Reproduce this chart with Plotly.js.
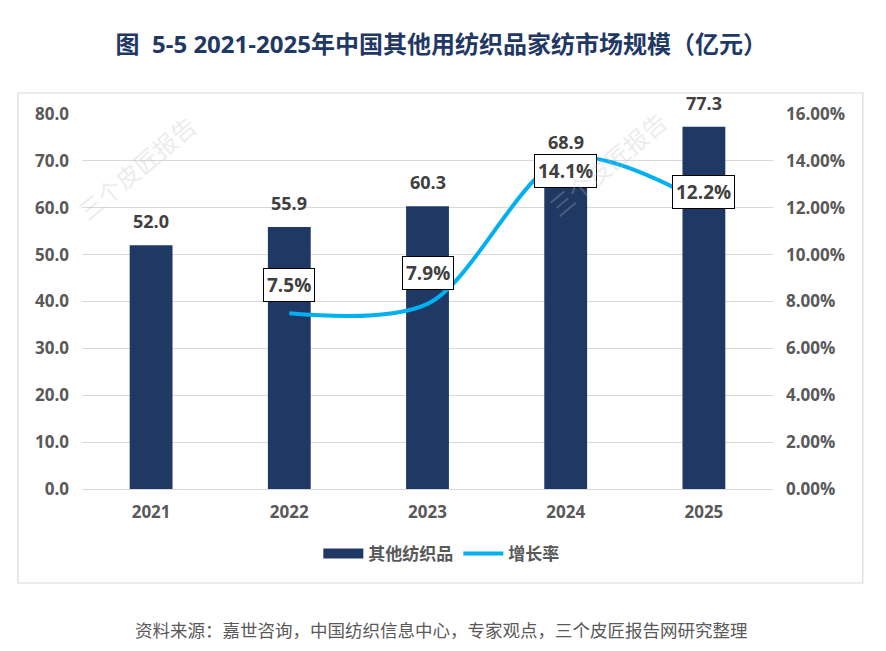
<!DOCTYPE html>
<html>
<head>
<meta charset="utf-8">
<script src="https://cdn.plot.ly/plotly-3.0.1.min.js"></script>
<style>html,body{margin:0;padding:0;background:#fff;}#chart{width:886px;height:651px;}</style>
</head>
<body>
<div id="chart"></div>
<script>
const years = ['2021', '2022', '2023', '2024', '2025'];
const marketSize = [52.0, 55.9, 60.3, 68.9, 77.3];
const growthRate = [null, 0.075, 0.079, 0.141, 0.122];
const growthLabels = [null, '7.5%', '7.9%', '14.1%', '12.2%'];
const leftTicks = [0, 10, 20, 30, 40, 50, 60, 70, 80];
const rightTicks = [0, 0.02, 0.04, 0.06, 0.08, 0.10, 0.12, 0.14, 0.16];

const barName = '其他纺织品';
const lineName = '增长率';
const titleText = '图  5-5 2021-2025年中国其他用纺织品家纺市场规模（亿元）';
const sourceText = '资料来源：嘉世咨询，中国纺织信息中心，专家观点，三个皮匠报告网研究整理';

// label placement (pixel offsets), style only
const growthLabelShift = [0, 28, 31, -12, 11];

const FONT = '"Open Sans", "Noto Sans CJK SC", sans-serif';
const NAVY = '#1F3864';
const SKY = '#00B0F0';
const GRAY = '#595959';

const traces = [
  {
    type: 'bar', x: years, y: marketSize, name: barName,
    marker: {color: NAVY}, width: 0.31, showlegend: false, hoverinfo: 'skip'
  },
  {
    type: 'scatter', mode: 'lines', x: years, y: growthRate, yaxis: 'y2',
    name: lineName, line: {color: SKY, width: 4, shape: 'spline', smoothing: 0.9},
    connectgaps: false, showlegend: false, hoverinfo: 'skip'
  },
  // legend-only entries
  {
    type: 'scatter', mode: 'lines', x: [null], y: [null], name: barName,
    line: {color: NAVY, width: 11}
  },
  {
    type: 'scatter', mode: 'lines', x: [null], y: [null], name: lineName,
    line: {color: SKY, width: 4}
  }
];

const annotations = [];
years.forEach((yr, i) => {
  annotations.push({
    x: i, y: marketSize[i], xref: 'x', yref: 'y',
    text: marketSize[i].toFixed(1), showarrow: false,
    yanchor: 'bottom', yshift: 10,
    font: {family: FONT, size: 18, color: '#404040', weight: 'bold'}
  });
  if (growthRate[i] !== null) {
    annotations.push({
      x: i, y: growthRate[i], xref: 'x', yref: 'y2',
      text: growthLabels[i], showarrow: false,
      yanchor: 'middle', yshift: growthLabelShift[i],
      bgcolor: '#ffffff', bordercolor: '#000000', borderwidth: 1, borderpad: 3,
      font: {family: FONT, size: 19, color: '#404040', weight: 'bold'}
    });
  }
});
annotations.push({
  x: 0.52, y: -0.376, xref: 'paper', yref: 'paper',
  text: sourceText, showarrow: false, xanchor: 'center', yanchor: 'middle',
  font: {family: FONT, size: 17.5, color: GRAY}
});
// faint watermarks
[[-0.02, 1.02], [0.86, 1.03]].forEach(p => {
  annotations.push({
    x: p[0], y: p[1], xref: 'paper', yref: 'paper', text: '三个皮匠报告',
    showarrow: false, textangle: -40,
    font: {family: FONT, size: 24, color: 'rgba(190,190,190,0.3)'}
  });
});

const layout = {
  width: 886, height: 651,
  margin: {l: 82, r: 113, t: 114, b: 162, pad: 0},
  paper_bgcolor: '#ffffff', plot_bgcolor: '#ffffff',
  title: {
    text: titleText, x: 0.498, xanchor: 'center', y: 0.931, yanchor: 'middle',
    font: {family: FONT, size: 24, color: NAVY, weight: 'bold'}
  },
  xaxis: {
    type: 'category', range: [-0.5, 4.5], showgrid: false, showline: false,
    zeroline: false, ticks: '', ticklen: 0, ticklabelstandoff: 11,
    tickfont: {family: FONT, size: 17, color: GRAY, weight: 'bold'}
  },
  yaxis: {
    range: [0, 80], tickvals: leftTicks, tickformat: '.1f',
    showgrid: true, gridcolor: '#d9d9d9', gridwidth: 1,
    zeroline: true, zerolinecolor: '#d9d9d9', zerolinewidth: 1,
    showline: false, ticks: '', ticklabelstandoff: 12,
    tickfont: {family: FONT, size: 17, color: GRAY, weight: 'bold'}
  },
  yaxis2: {
    overlaying: 'y', side: 'right', range: [0, 0.16], tickvals: rightTicks,
    tickformat: '.2%', showgrid: false, zeroline: false, showline: false,
    ticks: '', ticklabelstandoff: 12,
    tickfont: {family: FONT, size: 17, color: GRAY, weight: 'bold'}
  },
  legend: {
    orientation: 'h', x: 0.52, xanchor: 'center', y: -0.173, yanchor: 'middle',
    itemwidth: 40, itemsizing: 'trace', traceorder: 'normal',
    font: {family: FONT, size: 17, color: GRAY, weight: 'bold'}
  },
  shapes: [{
    type: 'rect', xref: 'paper', yref: 'paper',
    x0: -0.0926, x1: 1.130, y0: -0.2507, y1: 1.056,
    line: {color: '#d9d9d9', width: 1.2}, fillcolor: 'rgba(0,0,0,0)', layer: 'below'
  }],
  annotations: annotations,
  bargap: 0.69
};

Plotly.newPlot('chart', traces, layout, {displayModeBar: false, staticPlot: true});
</script>
</body>
</html>
